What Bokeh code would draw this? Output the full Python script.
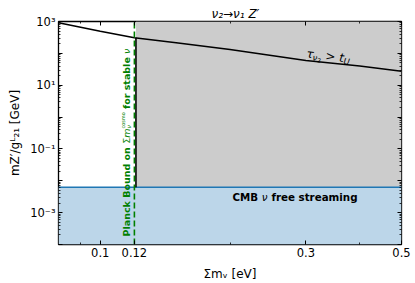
import math
from bokeh.plotting import figure
from bokeh.models import LogAxis, FixedTicker, CustomJSTickFormatter, Label, Range1d
from bokeh.embed import file_html
from bokeh.resources import INLINE

# ---------------- data ----------------
sum_mnu_eV = [0.08, 0.1, 0.12, 0.15, 0.2, 0.3, 0.4, 0.5]
mZ_over_g_GeV = [910, 497, 308, 215, 132, 60, 40, 27.5]
planck_bound_eV = 0.12
excluded_start_eV = 0.121
cmb_free_streaming_GeV = 6.3e-3
x_limits = [0.08, 0.5]
y_limits = [1e-4, 1e3]
x_major_ticks = [0.1, 0.12, 0.3, 0.5]
x_tick_labels = ["0.1", "0.12", "0.3", "0.5"]
x_minor_ticks = [0.09, 0.2, 0.4]
y_major_ticks = [1e-4, 1e-3, 1e-2, 1e-1, 1, 10, 100, 1000]
y_minor_ticks = [m * 10.0 ** e for e in range(-4, 3) for m in range(2, 10)]
title_text = "\u03bd\u2082\u2192\u03bd\u2081 Z\u2032"
x_label_text = "\u03a3m\u1d65 [eV]"
y_label_text = "mZ\u2032/g\u1d38\u2082\u2081 [GeV]"

FONT = "DejaVu Sans"
GRAY = "#cccccc"
BLUE_FILL = "#bcd6e9"
BLUE = "#1f77b4"
GREEN = "#008000"

# frame placement (page pixels; the page has no margin)
W, H = 415, 283
FL, FR, FT, FB = 58, 401, 21, 244
p = figure(frame_width=FR - FL, frame_height=FB - FT,
           min_border_left=FL, min_border_right=W - FR,
           min_border_top=FT, min_border_bottom=H - FB,
           x_axis_type="log", y_axis_type="log",
           x_range=Range1d(*x_limits), y_range=Range1d(*y_limits),
           output_backend="svg", toolbar_location=None, title=title_text)
p.background_fill_color = "white"
p.border_fill_color = "white"
p.grid.visible = False
p.outline_line_color = "black"
p.outline_line_width = 1.3

p.title.text_font = FONT
p.title.text_font_size = "12px"
p.title.text_font_style = "italic"
p.title.text_color = "black"
p.title.align = "left"
p.title.offset = 153
p.title.standoff = 2

xt = FixedTicker(ticks=x_major_ticks, minor_ticks=x_minor_ticks)
yt = FixedTicker(ticks=y_major_ticks, minor_ticks=y_minor_ticks)
xfmt = CustomJSTickFormatter(args=dict(vals=x_major_ticks, labs=x_tick_labels), code="""
for (let i = 0; i < vals.length; i++) { if (Math.abs(vals[i] - tick) < 1e-9) return labs[i]; }
return "";
""")
yfmt = CustomJSTickFormatter(code="""
const e = Math.round(Math.log10(tick));
if (Math.abs(e % 2) == 0) return "";
const sup = {"-": "\u207b", "0": "\u2070", "1": "\u00b9", "2": "\u00b2", "3": "\u00b3", "4": "\u2074"};
return "10" + String(e).split("").map(c => sup[c]).join("");
""")


def style_axis(ax, ticker, fmt=None, show=True):
    ax.ticker = ticker
    if fmt is not None:
        ax.formatter = fmt
    ax.axis_line_color = None
    ax.major_tick_in = 4
    ax.major_tick_out = 0
    ax.minor_tick_in = 2
    ax.minor_tick_out = 0
    ax.major_tick_line_color = "black"
    ax.minor_tick_line_color = "black"
    ax.major_tick_line_width = 1
    ax.minor_tick_line_width = 0.8
    ax.major_label_text_font = FONT
    ax.major_label_text_color = "black"
    ax.axis_label_text_font = FONT
    ax.axis_label_text_font_size = "12px"
    ax.axis_label_text_font_style = "normal"
    ax.axis_label_text_color = "black"
    if show:
        ax.major_label_text_font_size = "11.5px"
        ax.major_label_standoff = 3
    else:
        ax.major_label_text_font_size = "0px"
        ax.major_label_standoff = 0
        ax.major_label_text_color = None


style_axis(p.xaxis[0], xt, xfmt)
style_axis(p.yaxis[0], yt, yfmt)
p.xaxis[0].axis_label = x_label_text
p.xaxis[0].axis_label_standoff = 7
p.yaxis[0].axis_label = y_label_text
p.yaxis[0].axis_label_standoff = 5
top_ax = LogAxis()
right_ax = LogAxis()
style_axis(top_ax, FixedTicker(ticks=x_major_ticks, minor_ticks=x_minor_ticks), xfmt, show=False)
style_axis(right_ax, FixedTicker(ticks=y_major_ticks, minor_ticks=y_minor_ticks), yfmt, show=False)
p.add_layout(top_ax, "above")
p.add_layout(right_ax, "right")

# ---------------- regions and lines ----------------
p.quad(left=x_limits[0], right=x_limits[1], bottom=y_limits[0], top=cmb_free_streaming_GeV,
       fill_color=BLUE_FILL, line_color=None)
p.quad(left=excluded_start_eV, right=x_limits[1], bottom=cmb_free_streaming_GeV, top=y_limits[1],
       fill_color=GRAY, line_color=None)
p.line(x=x_limits, y=[cmb_free_streaming_GeV, cmb_free_streaming_GeV], line_color=BLUE, line_width=1.6)
p.line(x=[excluded_start_eV, excluded_start_eV],
       y=[cmb_free_streaming_GeV, mZ_over_g_GeV[sum_mnu_eV.index(planck_bound_eV)]],
       line_color="black", line_width=1.6)
p.line(x=sum_mnu_eV, y=mZ_over_g_GeV, line_color="black", line_width=1.6)
p.line(x=[planck_bound_eV, planck_bound_eV], y=y_limits, line_color=GREEN, line_width=1.6,
       line_dash="6 3")

# ---------------- in-frame texts ----------------
W_REG = {" ": .318, "[": .390, "]": .390, "e": .615, "V": .684, "G": .775, "/": .337,
         ">": .838, "\u2192": .838, "\u03a3": .632, "2": .636, "1": .636, "m": .974,
         "g": .635, "Z": .685, "\u2032": .30, "\u03bd": .592, "\u03c4": .55, "t": .392,
         "U": .732, "L": .557, "c": .55, "o": .612, "s": .521}
W_BOLD = {" ": .348, "C": .734, "M": .995, "B": .762, "f": .435, "r": .493, "e": .678,
          "s": .595, "t": .478, "a": .675, "m": 1.042, "i": .343, "n": .712, "g": .716,
          "P": .733, "l": .343, "c": .593, "k": .665, "o": .687, "u": .712, "d": .716,
          "b": .716}


def width(text, size, style):
    tab = W_BOLD if "bold" in style else W_REG
    return sum(tab.get(ch, .6) for ch in text) * size


def put(pieces, px, py, angle_deg, color="black"):
    a = math.radians(angle_deg)
    ux, uy = math.cos(a), math.sin(a)
    nx, ny = -math.sin(a), math.cos(a)
    sx0, sy0 = px - FL, FB - py
    s = 0.0
    for piece in pieces:
        text, size, style, shift = piece[:4]
        adv = piece[4] if len(piece) > 4 else width(text, size, style)
        lead = len(text) - len(text.lstrip(" "))
        off = width(" " * lead, size, style)
        t = s + off
        p.add_layout(Label(x=sx0 + t * ux + shift * nx, y=sy0 + t * uy + shift * ny,
                           x_units="screen", y_units="screen", text=text.strip(" "), angle=a,
                           text_font=FONT, text_font_size=f"{size}px", text_font_style=style,
                           text_color=color, text_align="left", text_baseline="alphabetic"))
        s += adv


# tau label
put([("\u03c4", 12, "italic", 0), ("\u03bd", 8.4, "italic", -3), ("2", 6, "normal", -5),
     (" > ", 12, "normal", 0), ("t", 12, "italic", 0), ("U", 8.4, "italic", -3)],
    306, 53, -7)
# CMB label
put([("CMB ", 10.3, "bold", 0), ("\u03bd", 10.3, "italic", 0), (" free streaming", 10.3, "bold", 0)],
    232, 196.5, 0)
# Planck bound label
put([("Planck Bound on ", 9.5, "bold", 0), ("\u03a3", 9.5, "normal", 0), ("m", 9.5, "italic", 0),
     ("\u03bd", 6, "italic", -2, 0), ("cosmo", 5, "normal", 4), (" for stable ", 9.5, "bold", 0),
     ("\u03bd", 9.5, "italic", 0)], 126, 236, 90, color=GREEN)

open("out.html", "w").write(file_html(p, INLINE))
